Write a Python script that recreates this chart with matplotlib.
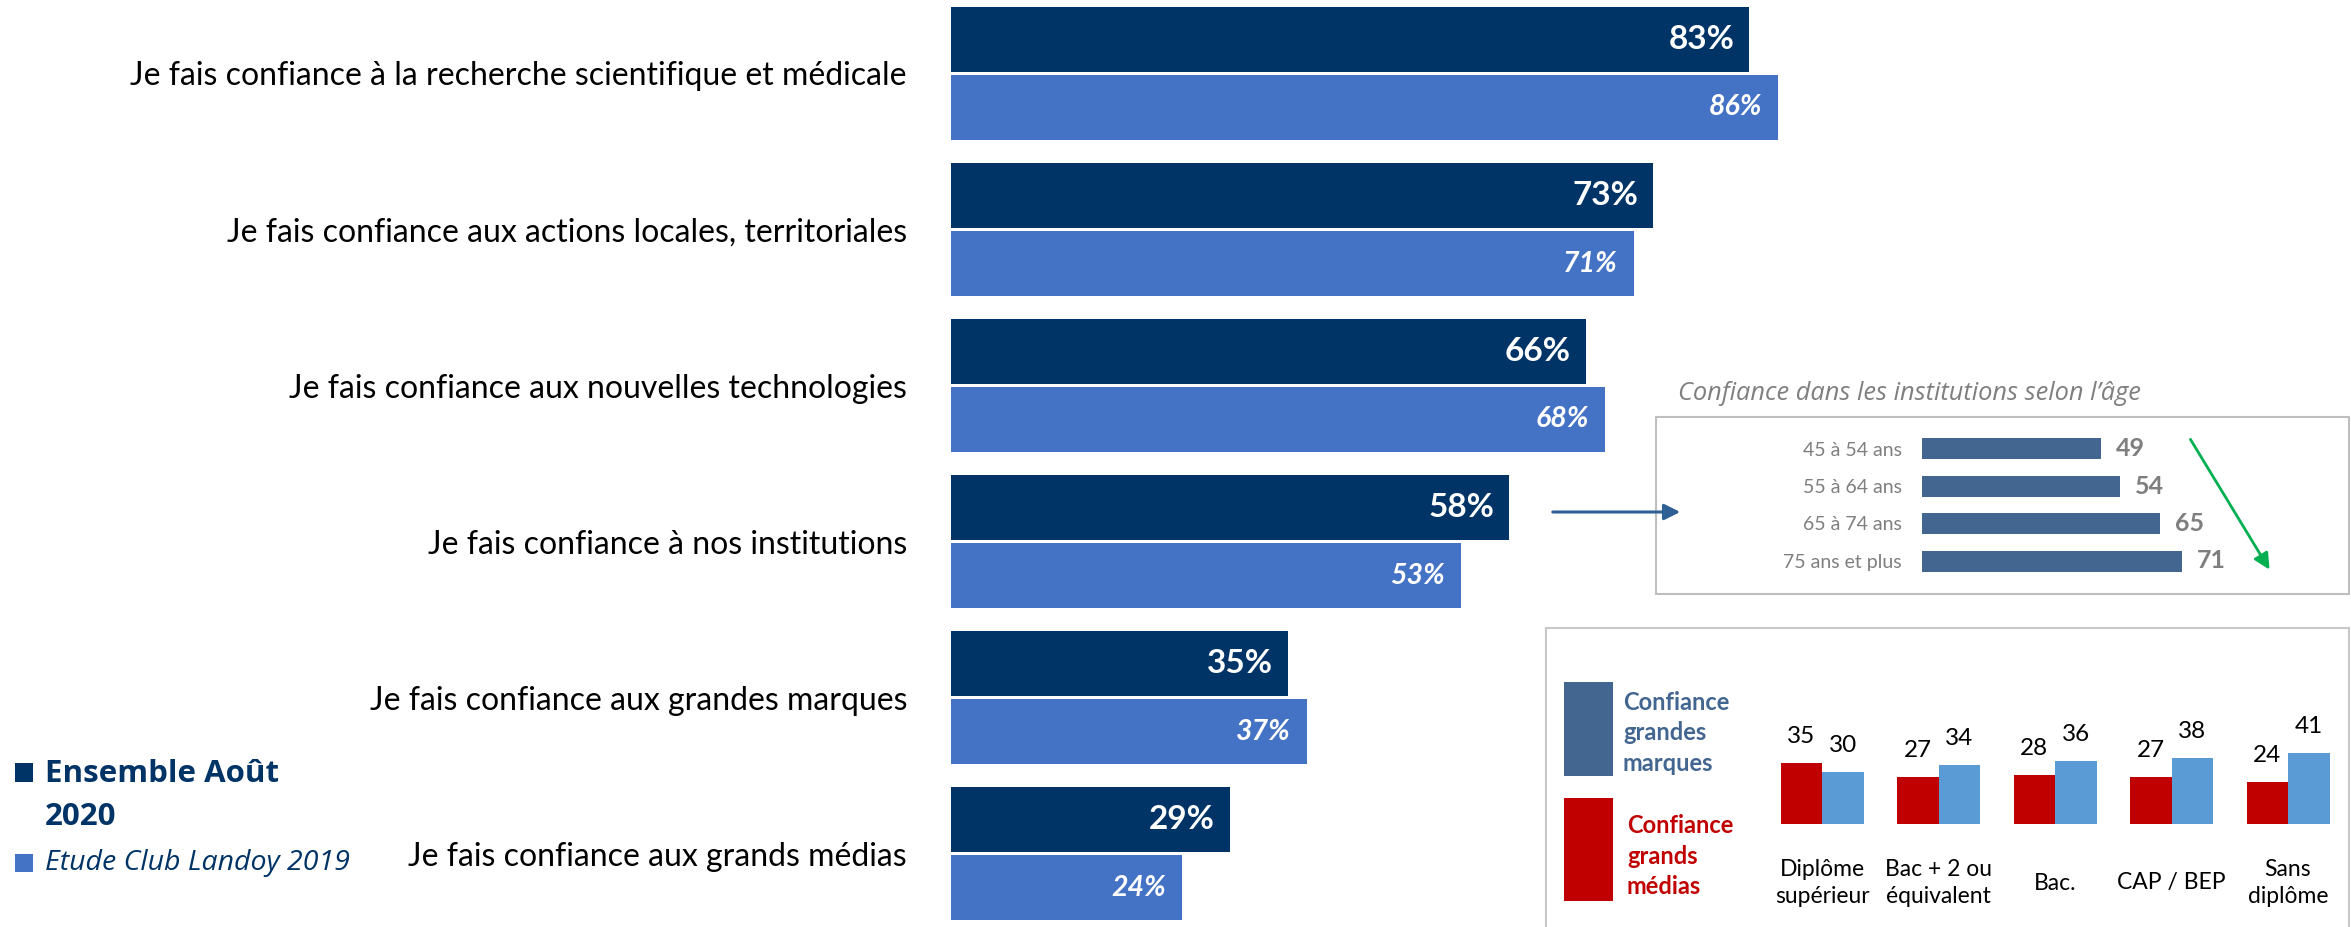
import matplotlib
matplotlib.use("Agg")
import matplotlib.pyplot as plt
import matplotlib.transforms as mtransforms
from matplotlib.patches import Rectangle, FancyArrowPatch

# ---------------- data ----------------
categories = [
    "Je fais confiance à la recherche scientifique et médicale",
    "Je fais confiance aux actions locales, territoriales",
    "Je fais confiance aux nouvelles technologies",
    "Je fais confiance à nos institutions",
    "Je fais confiance aux grandes marques",
    "Je fais confiance aux grands médias",
]
ensemble_2020 = [83, 73, 66, 58, 35, 29]
landoy_2019 = [86, 71, 68, 53, 37, 24]

age_groups = ["45 à 54 ans", "55 à 64 ans", "65 à 74 ans", "75 ans et plus"]
age_institutions = [49, 54, 65, 71]

diplomas = ["Diplôme\nsupérieur", "Bac + 2 ou\néquivalent", "Bac.", "CAP / BEP", "Sans\ndiplôme"]
medias_by_diploma = [35, 27, 28, 27, 24]
marques_by_diploma = [30, 34, 36, 38, 41]

# ---------------- styling ----------------
NAVY = "#003366"
LIGHT = "#4472C4"
STEEL = "#426690"
RED = "#C00000"
SKY = "#5B9BD5"
GREY = "#7F7F7F"
SANS = ["Lato", "DejaVu Sans"]
OPEN = ["Open Sans", "DejaVu Sans"]

W, H, DPI = 2351, 927, 100
fig = plt.figure(figsize=(W / DPI, H / DPI), dpi=DPI)
fig.patch.set_facecolor("white")


def fx(px):
    return px / W


def fy(py):
    return 1 - py / H


def axes_px(left, top, right, bottom):
    ax = fig.add_axes([left / W, 1 - bottom / H, (right - left) / W, (bottom - top) / H])
    ax.patch.set_visible(False)
    for s in ax.spines.values():
        s.set_visible(False)
    return ax


PT = 72 / DPI  # points per pixel

# ---------------- main horizontal bar chart ----------------
row = 156.0  # pixels per category
ax = axes_px(951, 0, 951 + 962, H)
ax.set_xlim(0, 100)
ax.set_ylim((H - 73.5) / row, -73.5 / row)
off = 34 / row
bh = 65 / row
ypos = list(range(len(categories)))
ax.barh([y - off for y in ypos], ensemble_2020, height=bh, color=NAVY, edgecolor="none")
ax.barh([y + off for y in ypos], landoy_2019, height=bh, color=LIGHT, edgecolor="none")
for y, v in zip(ypos, ensemble_2020):
    ax.annotate(f"{v}%", xy=(v, y - off), xytext=(-15 * PT, 0), textcoords="offset points",
                ha="right", va="center", color="white", fontweight="bold",
                fontsize=24, family=SANS)
for y, v in zip(ypos, landoy_2019):
    ax.annotate(f"{v}%", xy=(v, y + off), xytext=(-16 * PT, 0), textcoords="offset points",
                ha="right", va="center", color="white", fontweight="bold", style="italic",
                fontsize=20.5, family=SANS)
ax.set_yticks(ypos)
ax.set_yticklabels(categories, fontsize=23, family=SANS, color="black")
ax.tick_params(axis="y", length=0, pad=44 * PT)
ax.set_xticks([])

# main legend
fig.add_artist(Rectangle((fx(15), fy(782)), 18 / W, 19 / H, transform=fig.transFigure,
                         color=NAVY, lw=0))
fig.add_artist(Rectangle((fx(15), fy(872)), 18 / W, 18 / H, transform=fig.transFigure,
                         color=LIGHT, lw=0))
fig.text(fx(45), fy(774), "Ensemble Août", ha="left", va="center", fontsize=22.5,
         fontweight="bold", color=NAVY, family=OPEN)
fig.text(fx(45), fy(817), "2020", ha="left", va="center", fontsize=22.5,
         fontweight="bold", color=NAVY, family=OPEN)
fig.text(fx(45), fy(863), "Etude Club Landoy 2019", ha="left", va="center", fontsize=20.5,
         style="italic", color=NAVY, family=OPEN)

# ---------------- inset: institutions by age ----------------
fig.add_artist(Rectangle((fx(1656), fy(594)), (2349 - 1656) / W, (594 - 417) / H,
                         transform=fig.transFigure, fill=False, edgecolor="#BFBFBF", lw=1.5))
fig.text(fx(1678), fy(393), "Confiance dans les institutions selon l’âge", ha="left",
         va="center", fontsize=18.3, style="italic", color=GREY, family=OPEN)

step = 37.5
ax1 = axes_px(1922, 448.5 - step / 2, 1922 + 366, 561 + step / 2)
ax1.set_xlim(0, 100)
ax1.set_ylim(len(age_groups) - 0.5, -0.5)
ax1.barh(range(len(age_groups)), age_institutions, height=21 / step, color=STEEL)
for i, v in enumerate(age_institutions):
    ax1.annotate(str(v), xy=(v, i), xytext=(15 * PT, 0), textcoords="offset points",
                 ha="left", va="center", fontsize=18, fontweight="bold", color=GREY,
                 family=SANS)
ax1.set_yticks(range(len(age_groups)))
ax1.set_yticklabels(age_groups, fontsize=14, color=GREY, family=SANS)
ax1.tick_params(axis="y", length=0, pad=20 * PT)
ax1.set_xticks([])

# connector arrow and trend arrow
fig.add_artist(FancyArrowPatch((fx(1550), fy(512)), (fx(1683), fy(512)),
                               transform=fig.transFigure, arrowstyle="-|>",
                               mutation_scale=24, lw=2.2, color="#2E5F95"))
fig.add_artist(FancyArrowPatch((fx(2189), fy(437)), (fx(2271), fy(572)),
                               transform=fig.transFigure, arrowstyle="-|>",
                               mutation_scale=24, lw=2.0, color="#00B050"))

# ---------------- inset: brands / media by diploma ----------------
fig.add_artist(Rectangle((fx(1546), fy(940)), (2349 - 1546) / W, (940 - 628) / H,
                         transform=fig.transFigure, fill=False, edgecolor="#C8C8C8", lw=1.5))

gstep = 116.5
ax2 = axes_px(1822 - gstep / 2, 824 - 60 * 1.74, 1822 - gstep / 2 + 5 * gstep, 824)
ax2.set_xlim(-0.5, len(diplomas) - 0.5)
ax2.set_ylim(0, 60)
bw = 41.5 / gstep
xs = list(range(len(diplomas)))
ax2.bar([x - bw / 2 for x in xs], medias_by_diploma, width=bw, color=RED)
ax2.bar([x + bw / 2 for x in xs], marques_by_diploma, width=bw, color=SKY)
for x, v in zip(xs, medias_by_diploma):
    ax2.annotate(str(v), xy=(x - bw / 2, v), xytext=(0, 26.5 * PT), textcoords="offset points",
                 ha="center", va="center", fontsize=17.5, color="black", family=SANS)
for x, v in zip(xs, marques_by_diploma):
    ax2.annotate(str(v), xy=(x + bw / 2, v), xytext=(0, 26.5 * PT), textcoords="offset points",
                 ha="center", va="center", fontsize=17.5, color="black", family=SANS)
ax2.set_xticks([])
ax2.set_yticks([])
blend = mtransforms.blended_transform_factory(ax2.transData, fig.transFigure)
for x, lab in zip(xs, diplomas):
    ax2.text(x, fy(883), lab, transform=blend, ha="center", va="center", fontsize=16.5,
             linespacing=1.3, multialignment="center", color="black", family=SANS)

# legend of the diploma inset
fig.add_artist(Rectangle((fx(1564), fy(776)), 49 / W, 94 / H, transform=fig.transFigure,
                         color=STEEL, lw=0))
fig.add_artist(Rectangle((fx(1564), fy(901)), 49 / W, 103 / H, transform=fig.transFigure,
                         color=RED, lw=0))
fig.text(fx(1623), fy(733), "Confiance\ngrandes\nmarques", ha="left", va="center",
         fontsize=17, fontweight="bold", color=STEEL, linespacing=1.4, family=SANS)
fig.text(fx(1627), fy(856), "Confiance\ngrands\nmédias", ha="left", va="center",
         fontsize=17, fontweight="bold", color=RED, linespacing=1.4, family=SANS)

fig.savefig("out.png", dpi=DPI, facecolor="white")
